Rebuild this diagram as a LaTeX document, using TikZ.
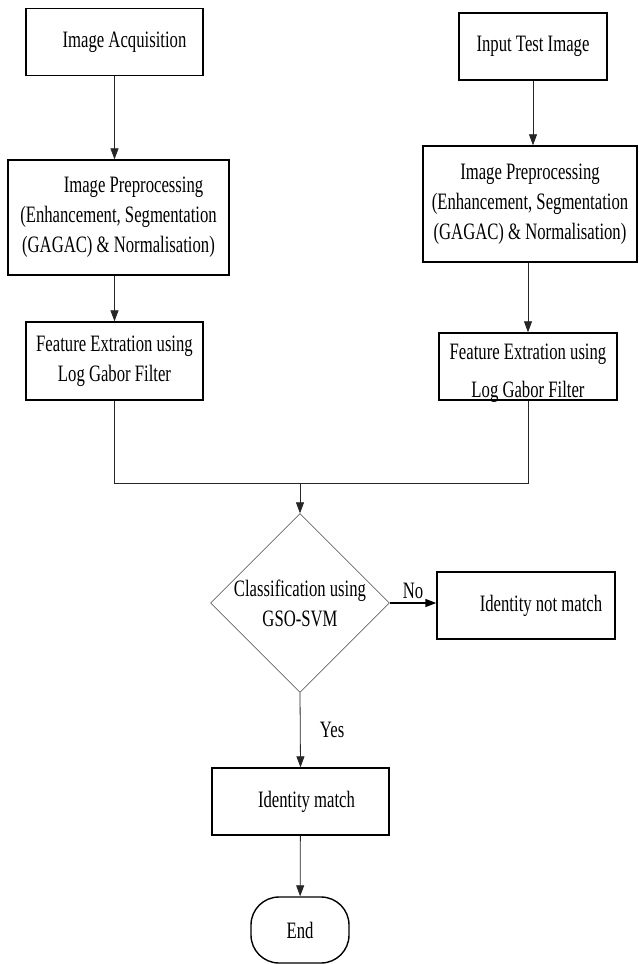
\documentclass[tikz,border=0pt]{standalone}
\usepackage{fontspec}
\setmainfont{Liberation Serif}[FakeStretch=0.71]
\usetikzlibrary{shapes.geometric,arrows.meta}

\tikzset{
    box/.style={draw,line width=1.4pt,align=center,minimum height=67pt,font=\fontsize{23.5}{30}\selectfont},
    decision/.style={draw,diamond,aspect=1,minimum width=176pt,minimum height=176pt,inner sep=0pt,align=center,font=\fontsize{23.5}{30}\selectfont},
    terminal/.style={draw,line width=1.4pt,rounded corners=28pt,minimum width=98pt,minimum height=66pt,font=\fontsize{23.5}{30}\selectfont},
    flow/.style={draw=black!85,line width=0.8pt,-{Triangle[length=11pt,width=8pt]}},
    plain/.style={draw=black!85,line width=0.8pt}
}

\begin{document}
\begin{tikzpicture}[x=1pt,y=-1pt]
    \useasboundingbox (0,0) rectangle (639,964);
    % left column
    \node[box,minimum width=177pt] (acq) at (114.5,42) {\hspace*{20pt}Image Acquisition};
    \node[box,minimum width=221pt,minimum height=115pt] (pre1) at (118.5,217.5) {\hspace*{30pt}Image Preprocessing\\(Enhancement, Segmentation\\(GAGAC) \& Normalisation)};
    \node[box,minimum width=177pt,minimum height=78pt] (fe1) at (114.5,361) {Feature Extration using\\Log Gabor Filter};
    % right column
    \node[box,minimum width=148pt] (test) at (533,46.5) {Input Test Image};
    \node[box,minimum width=214pt,minimum height=116pt] (pre2) at (530,204) {Image Preprocessing\\(Enhancement, Segmentation\\(GAGAC) \& Normalisation)};
    \node[box,minimum width=178pt] (fe2) at (528,366.5) {Feature Extration using\\\raisebox{-8pt}[0pt][0pt]{Log Gabor Filter}};
    % decision and results
    \coordinate (j) at (300,483);
    \node[decision] (cls) at (300,603) {Classification using\\GSO-SVM};
    \node[box,minimum width=178pt] (nomatch) at (526,605.5) {\hspace*{30pt}Identity not match};
    \node[box,minimum width=177pt] (match) at (300.5,801.5) {\hspace*{12pt}Identity match};
    \node[terminal] (end) at (300,930) {End};

    \draw[flow] (acq.south) -- (acq.south |- pre1.north);
    \draw[flow] (pre1.south -| acq.south) -- (fe1.north);
    \draw[flow] (test.south) -- (test.south |- pre2.north);
    \draw[flow] (pre2.south -| fe2.north) -- (fe2.north);
    \draw[plain] (fe1.south) -- (fe1.south |- j) -- (fe2.south |- j) -- (fe2.south);
    \draw[flow] (j) -- (cls.north);
    \draw[flow,draw=black,line width=1.4pt] (cls.east) -- (cls.east -| nomatch.west)node[midway,above,font=\fontsize{23.5}{30}\selectfont]{No};
    \draw[flow] (cls.south) -- (match.north)node[midway,right=16pt,font=\fontsize{23.5}{30}\selectfont]{Yes};
    \draw[flow] (match) -- (end);
\end{tikzpicture}
\end{document}
